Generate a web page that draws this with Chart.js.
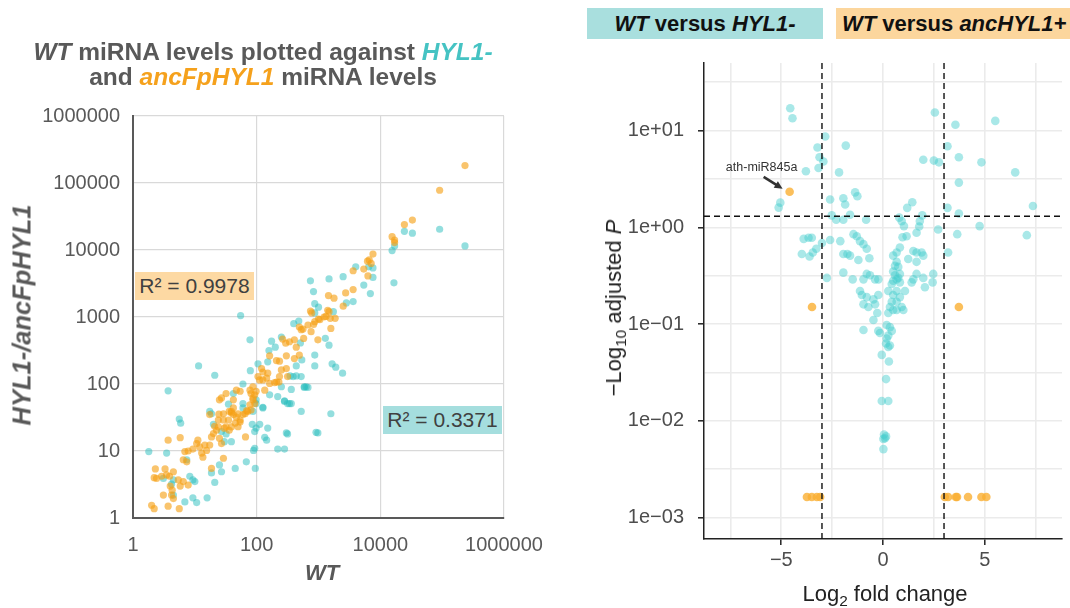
<!DOCTYPE html>
<html>
<head>
<meta charset="utf-8">
<title>WT vs HYL1- / ancFpHYL1 miRNA levels</title>
<script src="https://cdn.jsdelivr.net/npm/chart.js@4.4.1/dist/chart.umd.min.js"></script>
<style>
  body { margin: 0; background: #fff; }
  #page { position: relative; width: 1070px; height: 608px; overflow: hidden; font-family: "Liberation Sans", Arial, sans-serif; }
  canvas { position: absolute; }
  .lbl { position: absolute; white-space: nowrap; }
  .rot { transform: translate(-50%, -50%) rotate(-90deg); }
  .ctr { transform: translate(-50%, -50%); }
  .box { display: flex; align-items: center; justify-content: center; }
  .teal { color: #45c3c3; }
  .orange { color: #f5a11c; }
  sub { font-size: 70%; vertical-align: -0.3em; line-height: 0; }
</style>
</head>
<body>
<div id="page">
  <canvas id="scatterChart" width="560" height="608" style="left:0;top:0"></canvas>
  <canvas id="volcanoChart" width="510" height="564" style="left:560px;top:44px"></canvas>

  <div class="lbl" style="left:0;top:39px;width:526px;text-align:center;font-weight:bold;font-size:24.5px;line-height:25px;color:#595959">
    <i>WT</i> miRNA levels plotted against <i class="teal">HYL1-</i><br>and <i class="orange">ancFpHYL1</i> miRNA levels
  </div>
  <div class="lbl rot" style="left:22px;top:315px;font-weight:bold;font-style:italic;font-size:25.5px;color:#595959">HYL1-/ancFpHYL1</div>
  <div class="lbl ctr" style="left:322px;top:573px;font-weight:bold;font-style:italic;font-size:22px;color:#595959">WT</div>
  <div class="lbl box" style="left:135px;top:272px;width:119px;height:28px;background:#fdd9a3;font-size:21px;color:#404040">R² = 0.9978</div>
  <div class="lbl box" style="left:383px;top:406px;width:119px;height:28px;background:#a5dede;font-size:21px;color:#404040">R² = 0.3371</div>

  <div class="lbl box" style="left:587px;top:8px;width:236px;height:31px;background:#a9dfde;font-weight:bold;font-size:22px;color:#111"><span><i>WT</i> versus <i>HYL1-</i></span></div>
  <div class="lbl box" style="left:836px;top:8px;width:228px;padding-left:6px;height:31px;background:#fcd69d;font-weight:bold;font-size:22px;color:#111;justify-content:flex-start"><span><i>WT</i> versus <i>ancHYL1+</i></span></div>
  <div class="lbl rot" style="left:614px;top:308px;font-size:22px;color:#222">&minus;Log<sub>10</sub> adjusted <i>P</i></div>
  <div class="lbl ctr" style="left:885px;top:594px;font-size:22px;color:#222">Log<sub>2</sub> fold change</div>
</div>

<script>
// ---------- left panel: WT vs mutant miRNA levels ----------
const scatterTicksX = [1, 100, 10000, 1000000];
const scatterTicksY = [1, 10, 100, 1000, 10000, 100000, 1000000];

// [WT level, HYL1- level]
const hylPoints = [
  [234000,11500],[91000,20400],[24500,19000],[33000,17800],[17000,11500],[15500,9800],[16600,3240],
  [6500,5600],[7600,5400],[7600,3900],[5400,3000],[6900,2240],[740,3470],[1480,3700],[830,2400],
  [3630,1700],[2820,1620],[870,1580],[1740,1200],[870,1150],[480,870],[510,410],[1290,480],[1480,380],
  [870,270],[870,186],[1660,200],[1900,178],[2450,145],[174,436],[78,457],[537,229],[437,186],[151,214],
  [347,132],[389,129],[437,132],[589,91],[631,91],[363,83],[251,91],[282,55],[339,51],[525,39],[1585,36],
  [219,65],[162,69],[60,100],[98,51],[87,39],[60,44],[55,1050],[21,135],[3.7,79],[5.6,30],[5.9,26],
  [1.8,9.8],[3.5,9.3],[7.4,7.4],[3.1,3.9],[4.5,3.7],[8.3,4.2],[9.3,3.7],[10,3.5],[4.2,3.2],[4.5,2.2],
  [6.9,1.74],[9.3,2.0],[10.7,1.7],[15.8,2.0],[21,3.4],[11.5,186],[27,19.5],[30,13.8],[39,13.8],[32,18],
  [18.6,36],[17.4,39],[45,5.5],[25,6.2],[27,4.9],[18.6,4.7],[68,6.9],[95,5.5],[93,11],[89,10.2],[93,19.5],
  [98,22],[135,16],[145,14.5],[151,22],[112,25],[85,25],[219,10.7],[282,10.7],[316,18],[912,19],[126,44],
  [98,58],[302,18.6],[977,18.6],[525,129],[589,89],[676,89],[282,56],[316,51],[363,51],[126,45],[60,51],
  [20,25],[35,50],[79,158],[158,316],[251,501],[398,794],[42,72],[105,200],[200,355],[1000,1400],
  [2500,4000],[4000,5600]
];

// [WT level, ancFpHYL1 level]
const ancPoints = [
  [234000,182000],[91000,78000],[33000,28000],[24500,24000],[15500,15800],[17000,14100],[17000,12900],
  [7600,8700],[6600,7100],[7100,6300],[6200,6800],[5400,5200],[3630,4900],[6300,4100],[3630,2570],
  [2750,2290],[1450,2090],[1780,1910],[2510,1450],[1410,1260],[1480,1200],[1860,955],[1320,1020],
  [1230,1000],[776,1150],[741,1230],[871,851],[832,776],[1050,912],[1550,955],[1585,676],[1000,933],
  [676,759],[490,708],[562,661],[525,646],[575,479],[977,457],[759,603],[263,468],[295,407],[339,427],
  [407,457],[437,355],[490,269],[407,240],[302,263],[234,219],[162,263],[209,224],[120,170],[126,151],
  [105,129],[112,115],[145,123],[151,145],[251,162],[234,129],[316,129],[302,170],[162,102],[195,105],
  [229,107],[87,91],[78,81],[93,69],[87,58],[93,51],[78,49],[81,41],[72,39],[60,35],[54,29],[39,39],
  [42,35],[47,32],[45,26],[50,23],[3.7,14.5],[5.8,15.8],[6.9,9.8],[7.8,10],[9.3,10.7],[7.4,6.9],[6.5,7.4],
  [2.3,5.4],[3.3,5.4],[3.5,4.4],[2.2,4.0],[2.4,3.9],[2.9,4.2],[3.9,4.2],[4.5,4.9],[5.4,3.7],[6.5,3.5],
  [7.8,3.1],[5.8,3.0],[4.0,3.0],[4.3,2.6],[3.1,2.2],[4.2,2.2],[4.5,1.95],[2.0,1.55],[2.2,1.38],[3.7,1.5],
  [5.6,1.38],[10.7,12.9],[11.2,14.5],[12,11.5],[14.5,12.3],[15.5,10.2],[13.5,8.1],[12.9,9.3],[17.4,12.3],
  [18.6,16.2],[20,18.2],[22.4,20.4],[20.9,23.4],[24,22.9],[25,15.5],[27,12.9],[30,21.9],[32,22.9],
  [36,20.4],[39,22.9],[35,29],[29,29],[24,29],[24.5,35.5],[29,36],[36,39],[42,44],[32,72],[50,36],
  [54,27],[65,36],[69,40],[87,62],[98,78],[81,72],[135,81],[209,107],[126,115],[54,78],[47,81],[39,37],
  [42,58],[29,7.8],[18.6,5.5],[66,16.2],[17.4,35],[25,58],[27,62]
];

// ---------- right panel: volcano plot ----------
const fcTicks = [-7.5, -5, -2.5, 0, 2.5, 5, 7.5];
const fcLabels = { '-5': '\u22125', '0': '0', '5': '5' };
const pTicks = [0.001, 0.003162, 0.01, 0.03162, 0.1, 0.3162, 1, 3.162, 10, 31.62];
const fcCut = [-3, 3];      // log2 fold change cut-offs
const pCut = 1.301;         // -log10(0.05)

// [log2 fold change, -log10 adjusted P]  WT versus HYL1-
const volcanoHyl = [
  [-4.56,17],[-4.45,13.4],[-2.84,8.7],[-3.22,6.7],[-1.83,7.0],[-3.12,5.3],[-2.93,4.8],[-3.17,4.1],
  [-3.79,3.8],[-2.16,3.7],[-5.05,1.8],[-5.13,1.6],[-2.6,1.94],[-1.95,2.0],[-1.86,1.72],[-1.37,2.3],
  [-1.26,2.1],[-2.52,1.33],[-2.3,1.2],[-1.95,1.2],[-1.62,1.35],[-0.83,1.2],[1.44,1.82],[1.19,1.59],
  [0.8,1.26],[0.92,1.16],[1.03,1.03],[1.81,1.16],[1.93,1.33],[1.78,1.02],[1.98,5.0],[2.5,4.9],[2.75,4.7],
  [2.55,15.4],[3.56,11.5],[5.52,12.6],[3.17,6.9],[3.73,5.3],[4.84,4.7],[6.5,3.7],[3.73,2.9],[3.17,1.59],
  [3.73,1.39],[7.37,1.66],[4.75,1.03],[2.71,0.95],[3.65,0.85],[7.07,0.83],[1.65,0.88],[1.16,0.81],[0.96,0.79],
  [-3.9,0.76],[-3.66,0.78],[-3.5,0.78],[-3.99,0.53],[-3.61,0.5],[-3.45,0.55],[-3.28,0.6],[-3.0,0.69],
  [-2.6,0.74],[-2.1,0.72],[-1.45,0.85],[-1.29,0.81],[-1.13,0.72],[-0.96,0.67],[-0.8,0.6],[-1.95,0.53],
  [-1.75,0.53],[-1.62,0.51],[-1.21,0.46],[-0.67,0.48],[-2.76,0.30],[-1.95,0.34],[-1.49,0.29],[-0.96,0.29],
  [-0.8,0.33],[-0.64,0.32],[-0.39,0.29],[-0.23,0.29],[-1.13,0.22],[-1.04,0.2],[-0.8,0.19],[-0.96,0.16],
  [-0.72,0.15],[-0.47,0.18],[-0.39,0.16],[-0.23,0.2],[-0.28,0.13],[-0.47,0.11],[-0.96,0.087],[-0.23,0.085],
  [-0.15,0.081],[0.18,0.098],[0.34,0.093],[0.43,0.085],[0.26,0.076],[0.18,0.071],[0.15,0.063],[0.34,0.06],
  [0.26,0.058],[-0.06,0.048],[0.29,0.041],[0.15,0.027],[-0.06,0.016],[0.26,0.016],[0.05,0.0072],
  [0.1,0.0066],[0.02,0.0065],[0.15,0.0069],[0.02,0.0051],[0.5,0.51],[0.67,0.55],[0.83,0.62],
  [1.49,0.57],[1.65,0.55],[1.9,0.55],[1.98,0.51],[1.65,0.44],[1.24,0.47],[0.67,0.44],[0.59,0.4],
  [0.75,0.39],[0.5,0.35],[0.83,0.33],[0.59,0.32],[0.67,0.29],[0.75,0.3],[0.5,0.28],[0.83,0.27],
  [0.43,0.26],[1.41,0.27],[1.49,0.29],[1.65,0.33],[1.98,0.3],[2.06,0.24],[2.44,0.27],[2.47,0.33],
  [3.2,0.55],[0.26,0.22],[0.5,0.2],[0.67,0.22],[0.83,0.19],[1.08,0.22],[0.43,0.17],[0.67,0.17],
  [0.92,0.15],[1.0,0.14],[0.34,0.15],[0.5,0.14],[0.26,0.13],[0.67,0.14]
];

// [log2 fold change, -log10 adjusted P]  WT versus ancHYL1+
const volcanoAnc = [
  [-4.59,2.33],[-3.49,0.15],[3.73,0.15],
  [-3.74,0.00163],[-3.5,0.00163],[-3.25,0.00163],[-3.09,0.00163],
  [3.04,0.00163],[3.2,0.00163],[3.58,0.00163],[3.64,0.00163],[4.18,0.00163],[4.84,0.00163],[5.08,0.00163]
];
const labelGene = 'ath-miR845a';   // first point of volcanoAnc
const labelIndex = 0;

const fontFam = '"Liberation Sans", Arial, sans-serif';
const gray = '#595959';

function toXY(pairs) {
  return pairs.map(p => ({ x: p[0], y: p[1] }));
}

function isMajorLog(v) {
  let l = Math.log10(v);
  return Math.abs(l - Math.round(l)) < 0.01;
}

function sciLabel(v) {
  let e = Math.round(Math.log10(v));
  return '1e' + (e < 0 ? '\u2212' : '+') + String(Math.abs(e)).padStart(2, '0');
}

// left panel
new Chart(document.getElementById('scatterChart'), {
  type: 'scatter',
  data: {
    datasets: [
      { label: 'ancFpHYL1', data: toXY(ancPoints), backgroundColor: 'rgba(245,160,20,0.62)', pointRadius: 3.6, borderWidth: 0 },
      { label: 'HYL1-', data: toXY(hylPoints), backgroundColor: 'rgba(40,190,190,0.5)', pointRadius: 3.6, borderWidth: 0 }
    ]
  },
  options: {
    responsive: false,
    animation: false,
    events: [],
    layout: { padding: { top: 116, right: 56, left: 0, bottom: 0 } },
    plugins: { legend: { display: false }, tooltip: { enabled: false } },
    scales: {
      x: {
        type: 'logarithmic', min: 1, max: 1000000,
        afterBuildTicks: s => { s.ticks = scatterTicksX.map(v => ({ value: v })); },
        afterFit: s => { s.height = 90; },
        grid: { color: '#d9d9d9', lineWidth: 1.2, drawTicks: false },
        border: { color: gray, width: 2 },
        ticks: { padding: 15, color: gray, font: { family: fontFam, size: 20 }, maxRotation: 0, autoSkip: false, callback: v => String(v) }
      },
      y: {
        type: 'logarithmic', min: 1, max: 1000000,
        afterBuildTicks: s => { s.ticks = scatterTicksY.map(v => ({ value: v })); },
        afterFit: s => { s.width = 133; },
        grid: { color: '#d9d9d9', lineWidth: 1.2, drawTicks: false },
        border: { color: gray, width: 2 },
        ticks: { padding: 13, color: gray, font: { family: fontFam, size: 20 }, autoSkip: false, callback: v => String(v) }
      }
    }
  }
});

// dashed cut-off lines
const thresholdLines = {
  id: 'thresholdLines',
  afterDatasetsDraw(chart) {
    const { ctx, chartArea: a, scales: { x, y } } = chart;
    ctx.save();
    ctx.strokeStyle = '#111';
    ctx.lineWidth = 1.4;
    ctx.setLineDash([6, 4]);
    fcCut.forEach(v => {
      let px = x.getPixelForValue(v);
      ctx.beginPath(); ctx.moveTo(px, a.top); ctx.lineTo(px, a.bottom); ctx.stroke();
    });
    let py = y.getPixelForValue(pCut);
    ctx.beginPath(); ctx.moveTo(a.left, py); ctx.lineTo(a.right, py); ctx.stroke();
    ctx.restore();
  }
};

// label + arrow for the highlighted miRNA
const geneLabel = {
  id: 'geneLabel',
  afterDatasetsDraw(chart) {
    const pt = chart.getDatasetMeta(0).data[labelIndex];
    if (!pt) return;
    const ctx = chart.ctx;
    ctx.save();
    ctx.fillStyle = '#333';
    ctx.strokeStyle = '#333';
    ctx.font = '12.5px ' + fontFam;
    ctx.textAlign = 'center';
    ctx.textBaseline = 'middle';
    ctx.fillText(labelGene, pt.x - 28, pt.y - 24);
    let x0 = pt.x - 26, y0 = pt.y - 15, x1 = pt.x - 7, y1 = pt.y - 3;
    let ang = Math.atan2(y1 - y0, x1 - x0);
    ctx.lineWidth = 2.6;
    ctx.beginPath();
    ctx.moveTo(x0, y0);
    ctx.lineTo(x1 - 5 * Math.cos(ang), y1 - 5 * Math.sin(ang));
    ctx.stroke();
    ctx.beginPath();
    ctx.moveTo(x1, y1);
    ctx.lineTo(x1 - 9 * Math.cos(ang - 0.45), y1 - 9 * Math.sin(ang - 0.45));
    ctx.lineTo(x1 - 9 * Math.cos(ang + 0.45), y1 - 9 * Math.sin(ang + 0.45));
    ctx.closePath();
    ctx.fill();
    ctx.restore();
  }
};

// right panel
new Chart(document.getElementById('volcanoChart'), {
  type: 'scatter',
  data: {
    datasets: [
      { label: 'WT versus ancHYL1+', data: toXY(volcanoAnc), backgroundColor: 'rgba(250,175,50,0.8)', pointRadius: 4.3, borderWidth: 0 },
      { label: 'WT versus HYL1-', data: toXY(volcanoHyl), backgroundColor: 'rgba(64,205,205,0.45)', pointRadius: 4.3, borderWidth: 0 }
    ]
  },
  options: {
    responsive: false,
    animation: false,
    events: [],
    layout: { padding: { top: 19, right: 8, left: 0, bottom: 0 } },
    plugins: { legend: { display: false }, tooltip: { enabled: false } },
    scales: {
      x: {
        type: 'linear', min: -8.8, max: 8.8,
        afterBuildTicks: s => { s.ticks = fcTicks.map(v => ({ value: v })); },
        afterFit: s => { s.height = 69; },
        grid: {
          color: '#ebebeb', lineWidth: 1.6, tickLength: 6, tickWidth: 1.5,
          tickColor: c => (c.tick && fcLabels[String(c.tick.value)] !== undefined) ? '#222' : 'rgba(0,0,0,0)'
        },
        border: { color: '#222', width: 1.5 },
        ticks: { padding: 3, color: '#4d4d4d', font: { family: fontFam, size: 20 }, maxRotation: 0, autoSkip: false,
          callback: v => fcLabels[String(v)] || '' }
      },
      y: {
        type: 'logarithmic', min: 0.00061, max: 50,
        afterBuildTicks: s => { s.ticks = pTicks.map(v => ({ value: v })); },
        afterFit: s => { s.width = 144; s.paddingTop = 0; s.paddingBottom = 0; },
        grid: {
          color: '#ebebeb', lineWidth: 1.6, tickLength: 6, tickWidth: 1.5,
          tickColor: c => (c.tick && isMajorLog(c.tick.value)) ? '#222' : 'rgba(0,0,0,0)'
        },
        border: { color: '#222', width: 1.5 },
        ticks: { padding: 14, color: '#4d4d4d', font: { family: fontFam, size: 20 }, autoSkip: false,
          callback: v => isMajorLog(v) ? sciLabel(v) : '' }
      }
    }
  },
  plugins: [thresholdLines, geneLabel]
});
</script>
</body>
</html>
